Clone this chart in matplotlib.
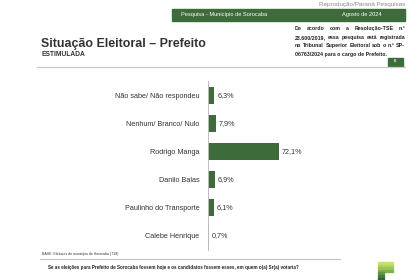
import matplotlib
matplotlib.use("Agg")
import matplotlib.pyplot as plt
from matplotlib.patches import Rectangle

categories = ["Não sabe/ Não respondeu", "Nenhum/ Branco/ Nulo", "Rodrigo Manga",
              "Danilo Balas", "Paulinho do Transporte", "Calebe Henrique"]
values = [6.3, 7.9, 72.1, 6.9, 6.1, 0.7]
value_labels = ["6,3%", "7,9%", "72,1%", "6,9%", "6,1%", "0,7%"]

title = "Situação Eleitoral – Prefeito"
subtitle = "ESTIMULADA"
header_left = "Pesquisa - Município de Sorocaba"
header_right = "Agosto de 2024"
credit = "Reprodução/Paraná Pesquisas"
note_lines = ["De acordo com a Resolução-TSE n.º",
              "23.600/2019, essa pesquisa está registrada",
              "no Tribunal Superior Eleitoral sob o n.º SP-",
              "06763/2024 para o cargo de Prefeito."]
base_text = "BASE: Eleitores do município de Sorocaba (718)"
question = "Se as eleições para Prefeito de Sorocaba fossem hoje e os candidatos fossem esses, em quem o(a) Sr(a) votaria?"

plt.rcParams['font.family'] = ['Liberation Sans', 'DejaVu Sans']

W, H = 420, 280
fig = plt.figure(figsize=(4.2, 2.8), dpi=100)
fig.patch.set_facecolor("white")

GREEN = "#3e6b3a"

def fx(x):
    return x / W

def fy(y):
    return 1 - y / H

# credit
fig.text(fx(405), fy(4.5), credit, ha="right", va="center", fontsize=4.5, color="#8a8a8a")

# header bar
fig.patches.append(Rectangle((fx(172), fy(20.5)), fx(405) - fx(172), (20.5 - 9) / H,
                             transform=fig.transFigure, color=GREEN, zorder=0))
fig.text(fx(181), fy(14.8), header_left, ha="left", va="center", fontsize=4.1, color="white")
fig.text(fx(362), fy(14.8), header_right, ha="center", va="center", fontsize=4.1, color="white")

# note text (justified)
renderer = fig.canvas.get_renderer()
x0, x1 = 295, 405
ys = [30.0, 38.7, 47.4, 56.0]
probe = fig.text(0, 0, note_lines[1], fontsize=4.0, fontweight="bold")
pw = probe.get_window_extent(renderer).width
probe.remove()
NOTE_FS = 4.0 * (x1 - x0) / pw * 0.97
for i, (line, yy) in enumerate(zip(note_lines, ys)):
    words = line.split(" ")
    if i == len(note_lines) - 1:
        fig.text(fx(x0), fy(yy), line, ha="left", va="baseline", fontsize=NOTE_FS,
                 fontweight="bold", color="#222222")
        continue
    texts = [fig.text(0, 0, w, fontsize=NOTE_FS, fontweight="bold", color="#222222",
                      ha="left", va="baseline") for w in words]
    widths = [t.get_window_extent(renderer).width for t in texts]
    gap = ((x1 - x0) - sum(widths)) / (len(words) - 1)
    cx = x0
    for t, w in zip(texts, widths):
        t.set_position((fx(cx), fy(yy)))
        cx += w + gap

# title
fig.text(fx(41), fy(44), title, ha="left", va="center", fontsize=8.9,
         fontweight="bold", color="#333333")
fig.text(fx(41), fy(55), subtitle, ha="left", va="center", fontsize=4.8,
         fontweight="bold", color="#333333")

# page number box
fig.patches.append(Rectangle((fx(388), fy(65.5)), fx(403) - fx(388), (65.5 - 57.5) / H,
                             transform=fig.transFigure, color=GREEN, zorder=0))
fig.text(fx(395.5), fy(61.5), "6", ha="center", va="center", fontsize=3.2, color="white",
         fontweight="bold")

# separator line
fig.add_artist(plt.Line2D([fx(37), fx(405)], [fy(67), fy(67)], transform=fig.transFigure,
                          color="#c8c8c8", lw=0.9))

# chart
ax_left, ax_right = 208, 308
ax_top, ax_bot = 81, 250
ax = fig.add_axes([fx(ax_left), fy(ax_bot), (ax_right - ax_left) / W, (ax_bot - ax_top) / H])
ypos = list(range(len(categories)))
ax.barh(ypos, values, height=0.6, color=GREEN, zorder=2)
ax.set_xlim(0, 101.5)
ax.set_ylim(len(categories) - 0.5, -0.5)
ax.set_yticks(ypos)
ax.set_yticklabels(categories, fontsize=5.2, color="#333333")
ax.tick_params(axis="y", length=0, pad=6)
ax.set_xticks([])
for s in ["top", "right", "bottom"]:
    ax.spines[s].set_visible(False)
ax.spines["left"].set_color("#bdbdbd")
ax.spines["left"].set_linewidth(0.7)
ax.set_facecolor("none")
for y, v, lab in zip(ypos, values, value_labels):
    ax.text(v + 3.0, y, lab, ha="left", va="center", fontsize=5.2, color="#333333")

# footer
fig.text(fx(42), fy(254), base_text, ha="left", va="center", fontsize=2.5, color="#333333")
fig.add_artist(plt.Line2D([fx(40), fx(340)], [fy(259), fy(259)], transform=fig.transFigure,
                          color="#bdbdbd", lw=0.7))
fig.text(fx(48), fy(267.5), question, ha="left", va="center", fontsize=3.3,
         fontweight="bold", color="#222222")

# logo stripes
logo_colors = ["#c9e06a", "#b5d65e", "#9cc653", "#7fb24a", "#5f963f", "#467c36", "#2f6330"]
for i, c in enumerate(logo_colors):
    top = 262 + i * 2.6
    wdt = 15 if i < 4 else 6
    fig.patches.append(Rectangle((fx(378), fy(top + 2.0)), wdt / W, 2.0 / H,
                                 transform=fig.transFigure, color=c))

fig.savefig("out.png", dpi=100, facecolor="white")
